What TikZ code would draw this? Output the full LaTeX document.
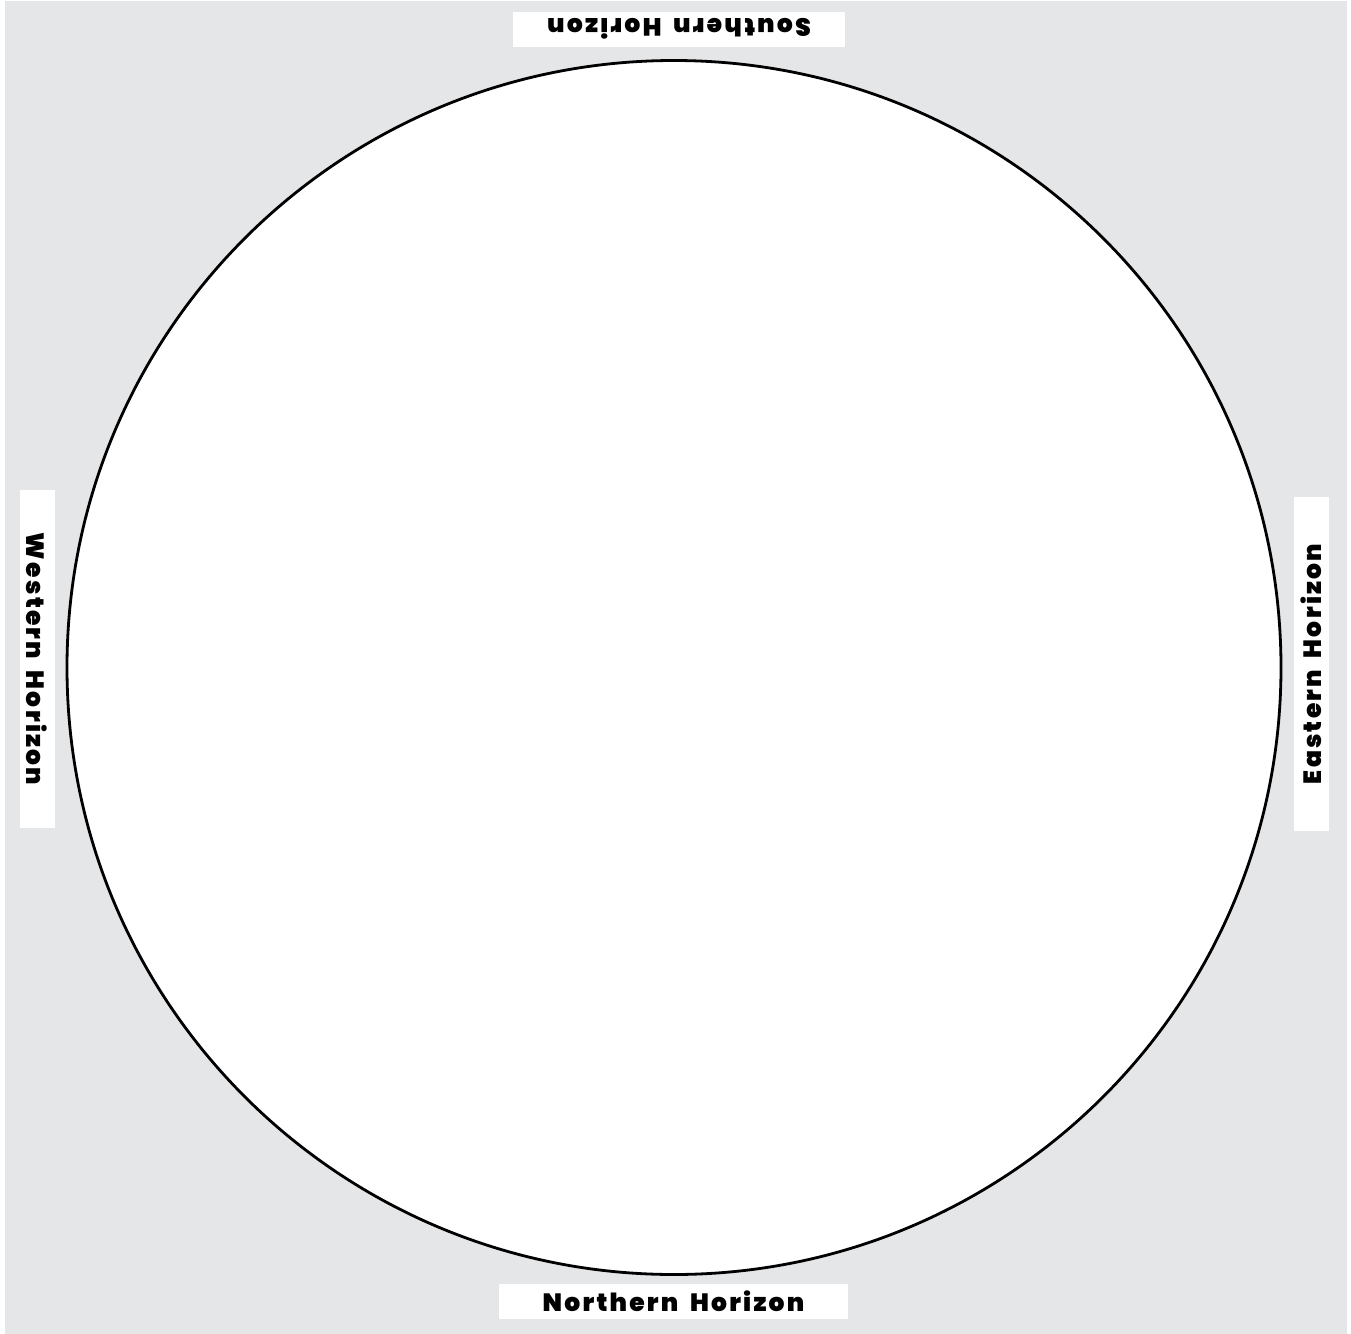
\documentclass[tikz,border=0pt]{standalone}
\usepackage{fontspec}
\usetikzlibrary{positioning}
\newfontfamily\horizonfont[LetterSpace=9, WordSpace=1.8, BoldFont={Poppins Black}]{Poppins}
\definecolor{cBack}{HTML}{E5E6E8}
\tikzset{
  horizon/.style ={fill=white, inner sep=0pt, font=\horizonfont\bfseries\fontsize{12.5}{14}\selectfont,
                   minimum height=17.5pt},
  skydisc/.style ={circle, draw=black, fill=white, line width=1.4pt,
                   minimum size=607pt, inner sep=0pt},
}

\begin{document}
\begin{tikzpicture}[x=0.5pt, y=-0.5pt]

  % ============================================================
  % FRAME
  % ============================================================
  \useasboundingbox (0,0) rectangle (1351,1334);
  \fill[cBack] (5,1) rectangle (1347,1334);

  % ============================================================
  % SKY DISC
  % ============================================================
  \node[skydisc] (sky) at (674,667.5) {};

  % ============================================================
  % HORIZON LABELS
  % ============================================================
  \node[horizon, minimum width=174.5pt] (nhor) at (673.5,1301) {Northern Horizon};
  \node[horizon, minimum width=166pt, rotate=180] (shor) at (679,29) {Southern Horizon};
  \node[horizon, minimum width=169pt, rotate=-90] (whor) at (37,659) {Western Horizon};
  \node[horizon, minimum width=167pt, rotate=90] (ehor) at (1311.5,664) {Eastern Horizon};

\end{tikzpicture}
\end{document}
